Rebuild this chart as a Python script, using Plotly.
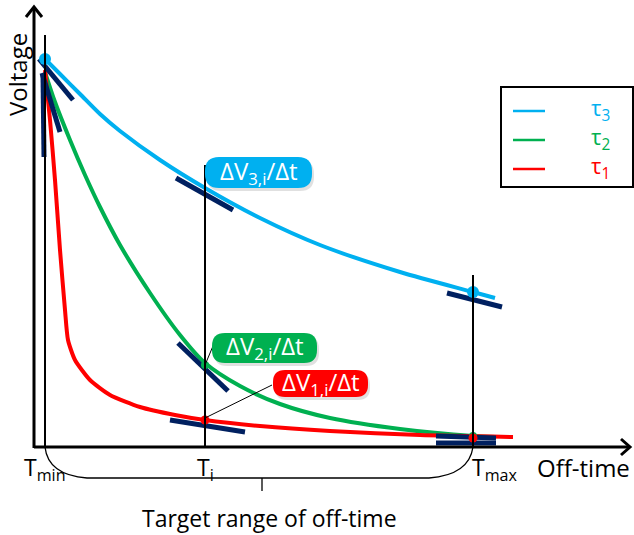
import plotly.graph_objects as go

# Data units: off-time t (x), voltage V (y); chart origin at axes crossing
blue_t = [11, 26, 46, 66, 86, 126, 171, 226, 286, 366, 439, 461]
blue_v = [388, 373, 353, 333, 316, 287, 259, 229, 202, 175, 155, 149]
green_t = [11, 21, 36, 51, 66, 86, 116, 146, 171, 206, 246, 296, 366, 439, 461]
green_v = [375, 345, 307, 272, 240, 202, 154, 112, 84, 61, 43, 29, 18, 11, 10]
red_t = [11, 16, 21, 26, 31, 34, 41, 56, 76, 106, 141, 171, 226, 296, 386, 479]
red_v = [377, 327, 267, 197, 137, 107, 87, 67, 52, 40, 32, 27, 21, 16, 12, 10]

t_marks = [11, 171, 439]
t_labels = ["T<sub>min</sub>", "T<sub>i</sub>", "T<sub>max</sub>"]
t_line_top = [412, 282, 172]

# tangent segments (t0, v0, t1, v1)
tangents = [
    (5, 388, 39, 347), (8, 374, 26, 315), (9, 372, 10, 290),
    (142, 269, 199, 237), (144, 104, 194, 56), (136, 27, 211, 15),
    (413, 154, 468, 140), (402, 11, 462, 9), (402, 4, 462, 4),
]

BLUE, GREEN, RED, NAVY = "#00b0f0", "#00b050", "#ff0000", "#002060"
FONT = "Open Sans"

fig = go.Figure()

# vertical marker lines
for t, top in zip(t_marks, t_line_top):
    fig.add_shape(type="line", x0=t, x1=t, y0=0, y1=top, line=dict(color="black", width=2))

fig.add_trace(go.Scatter(x=blue_t, y=blue_v, mode="lines", line=dict(color=BLUE, width=4, shape="spline", smoothing=0.8)))
fig.add_trace(go.Scatter(x=green_t, y=green_v, mode="lines", line=dict(color=GREEN, width=4, shape="spline", smoothing=0.8)))
fig.add_trace(go.Scatter(x=red_t, y=red_v, mode="lines", line=dict(color=RED, width=4, shape="spline", smoothing=0.6)))

tx, ty = [], []
for a, b, c, d in tangents:
    tx += [a, c, None]
    ty += [b, d, None]
fig.add_trace(go.Scatter(x=tx, y=ty, mode="lines", line=dict(color=NAVY, width=5)))

# dots
fig.add_trace(go.Scatter(x=[11, 439], y=[388, 155], mode="markers", marker=dict(color=BLUE, size=12)))
fig.add_trace(go.Scatter(x=[171, 439], y=[82, 11], mode="markers", marker=dict(color=GREEN, size=8)))
fig.add_trace(go.Scatter(x=[171, 439], y=[27, 9], mode="markers", marker=dict(color=RED, size=9)))

# axes with arrows
fig.add_shape(type="line", x0=0, x1=0, y0=-1, y1=439, line=dict(color="black", width=3))
fig.add_shape(type="path", path="M -8,430 L 0,440 L 8,430", line=dict(color="black", width=3))
fig.add_shape(type="line", x0=0, x1=595, y0=0, y1=0, line=dict(color="black", width=3))
fig.add_shape(type="path", path="M 587,8 L 596,0 L 587,-8", line=dict(color="black", width=3))

# brace
fig.add_shape(type="path",
              path="M 11,0 Q 14,-28 53,-31 L 395,-31 Q 435,-28 439,0",
              line=dict(color="black", width=1.3))
fig.add_shape(type="line", x0=228, x1=228, y0=-31, y1=-44, line=dict(color="black", width=1.3))


def pill(x0, y0, x1, y1, r):
    return (f"M {x0+r},{y0} L {x1-r},{y0} Q {x1},{y0} {x1},{y0+r} L {x1},{y1-r} "
            f"Q {x1},{y1} {x1-r},{y1} L {x0+r},{y1} Q {x0},{y1} {x0},{y1-r} "
            f"L {x0},{y0+r} Q {x0},{y0} {x0+r},{y0} Z")

# leader lines
fig.add_shape(type="line", x0=171, y0=82, x1=179, y1=101, line=dict(color="black", width=1))
fig.add_shape(type="line", x0=171, y0=29, x1=238, y1=62, line=dict(color="black", width=1))

boxes = [
    (171, 259, 278, 290, BLUE, "ΔV<sub>3,i</sub>/Δt", 14),
    (178, 84, 283, 114, GREEN, "ΔV<sub>2,i</sub>/Δt", 13),
    (239, 50, 334, 77, RED, "ΔV<sub>1,i</sub>/Δt", 12),
]
for x0, y0, x1, y1, col, txt, r in boxes:
    fig.add_shape(type="path", path=pill(x0 + 2, y0 - 3, x1 + 2, y1 - 3, r),
                  fillcolor="rgba(0,0,0,0.12)", line=dict(width=0), layer="above")
    fig.add_shape(type="path", path=pill(x0, y0, x1, y1, r), fillcolor=col,
                  line=dict(width=0), layer="above")
    fig.add_annotation(x=(x0 + x1) / 2, y=(y0 + y1) / 2 + 1, text=txt, showarrow=False,
                       font=dict(family=FONT, size=24, color="white"))

# legend box
fig.add_shape(type="rect", x0=467, x1=599, y0=260, y1=360, line=dict(color="black", width=2), fillcolor="white")
for v, col, lab in [(336, BLUE, "τ<sub>3</sub>"), (307, GREEN, "τ<sub>2</sub>"), (278, RED, "τ<sub>1</sub>")]:
    fig.add_shape(type="line", x0=479, x1=511, y0=v, y1=v, line=dict(color=col, width=2.5))
    fig.add_annotation(x=555, y=v + 2, text=lab, showarrow=False, xanchor="left",
                       font=dict(family=FONT, size=22, color=col))

# tick labels
for t, lab in zip(t_marks, t_labels):
    fig.add_annotation(x=t + (0 if t < 400 else 22), y=-21, text=lab, showarrow=False,
                       font=dict(family=FONT, size=23, color="black"))
fig.add_annotation(x=549, y=-20, text="Off-time", showarrow=False,
                   font=dict(family=FONT, size=24, color="black"))
fig.add_annotation(x=235, y=-71, text="Target range of off-time", showarrow=False,
                   font=dict(family=FONT, size=23, color="black"))
fig.add_annotation(x=-17, y=372, text="Voltage", showarrow=False, textangle=-90,
                   font=dict(family=FONT, size=24, color="black"))

fig.update_layout(
    width=634, height=535, autosize=False,
    margin=dict(l=0, r=0, t=0, b=0),
    paper_bgcolor="white", plot_bgcolor="white",
    showlegend=False,
    xaxis=dict(range=[-34, 600], visible=False, fixedrange=True),
    yaxis=dict(range=[-88, 447], visible=False, fixedrange=True),
)
fig.write_html("out.html")
